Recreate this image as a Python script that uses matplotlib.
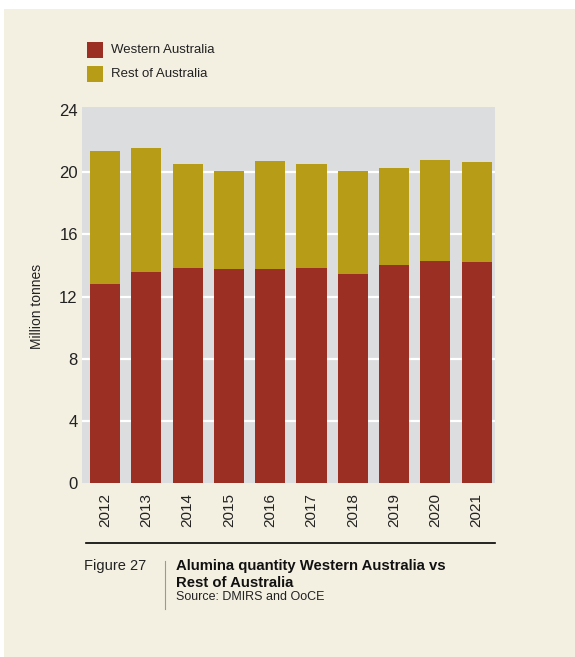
import matplotlib
matplotlib.use("Agg")
import matplotlib.pyplot as plt
from matplotlib import font_manager
from matplotlib.patches import Rectangle
from matplotlib.lines import Line2D

years = ["2012", "2013", "2014", "2015", "2016", "2017", "2018", "2019", "2020", "2021"]
western_australia = [12.83, 13.60, 13.86, 13.80, 13.80, 13.86, 13.47, 14.00, 14.26, 14.20]
rest_of_australia = [8.50, 7.93, 6.64, 6.30, 6.90, 6.64, 6.58, 6.24, 6.54, 6.43]
y_ticks = [0, 4, 8, 12, 16, 20, 24]

names = {f.name for f in font_manager.fontManager.ttflist}
fam = "Liberation Sans Narrow" if "Liberation Sans Narrow" in names else "Liberation Sans"
plt.rcParams["font.family"] = [fam, "DejaVu Sans"]

W, H = 575, 657
fig = plt.figure(figsize=(W / 100, H / 100), dpi=100, facecolor="white")
cream = "#F3F0E2"
fig.patches.append(Rectangle((4 / W, 0), 1, 1 - 9 / H, transform=fig.transFigure,
                             facecolor=cream, edgecolor="none", zorder=-10))

red = "#9C2F24"
gold = "#B79C17"
txt = "#222222"

ax = fig.add_axes([82 / W, 1 - 483.3 / H, (495 - 82) / W, (483.3 - 106.7) / H])
ax.set_facecolor("#DCDDDF")
x = list(range(len(years)))
ax.bar(x, western_australia, width=0.73, color=red, zorder=3)
ax.bar(x, rest_of_australia, bottom=western_australia, width=0.73, color=gold, zorder=3)
ax.set_xlim(-0.557, 9.443)
ax.set_ylim(0, 24.2)
ax.set_yticks(y_ticks)
ax.set_yticklabels([str(t) for t in y_ticks], fontsize=12, color=txt)
for t in y_ticks[1:-1]:
    ax.axhline(t, color="white", lw=1.6, zorder=1)
ax.set_xticks(x)
ax.set_xticklabels(years, rotation=90, fontsize=11, color=txt)
ax.tick_params(axis="both", length=0)
ax.tick_params(axis="y", pad=3)
ax.tick_params(axis="x", pad=7)
for s in ax.spines.values():
    s.set_visible(False)
fig.text(37 / W, 1 - 306 / H, "Million tonnes", fontsize=10, rotation=90,
         va="center", ha="center", color=txt)

# legend
fig.patches.append(Rectangle((87 / W, 1 - 58 / H), 16 / W, 16 / H, transform=fig.transFigure,
                             facecolor=red, edgecolor="none"))
fig.patches.append(Rectangle((87 / W, 1 - 82 / H), 16 / W, 16 / H, transform=fig.transFigure,
                             facecolor=gold, edgecolor="none"))
fig.text(111 / W, 1 - 50 / H, "Western Australia", fontsize=9.5, va="center", ha="left", color=txt)
fig.text(111 / W, 1 - 74 / H, "Rest of Australia", fontsize=9.5, va="center", ha="left", color=txt)

# caption
fig.add_artist(Line2D([86 / W, 495 / W], [1 - 543 / H, 1 - 543 / H], transform=fig.transFigure,
                      color="black", lw=1.2))
fig.add_artist(Line2D([165 / W, 165 / W], [1 - 561 / H, 1 - 609 / H], transform=fig.transFigure,
                      color="#999999", lw=0.8))
fig.text(84 / W, 1 - 566 / H, "Figure 27", fontsize=10.5, va="center", ha="left", color=txt)
fig.text(176 / W, 1 - 566 / H, "Alumina quantity Western Australia vs", fontsize=10.7,
         fontweight="bold", va="center", ha="left", color="#111111")
fig.text(176 / W, 1 - 583 / H, "Rest of Australia", fontsize=10.7,
         fontweight="bold", va="center", ha="left", color="#111111")
fig.text(176 / W, 1 - 597 / H, "Source: DMIRS and OoCE", fontsize=9,
         va="center", ha="left", color=txt)

fig.savefig("out.png", dpi=100, facecolor=fig.get_facecolor())
